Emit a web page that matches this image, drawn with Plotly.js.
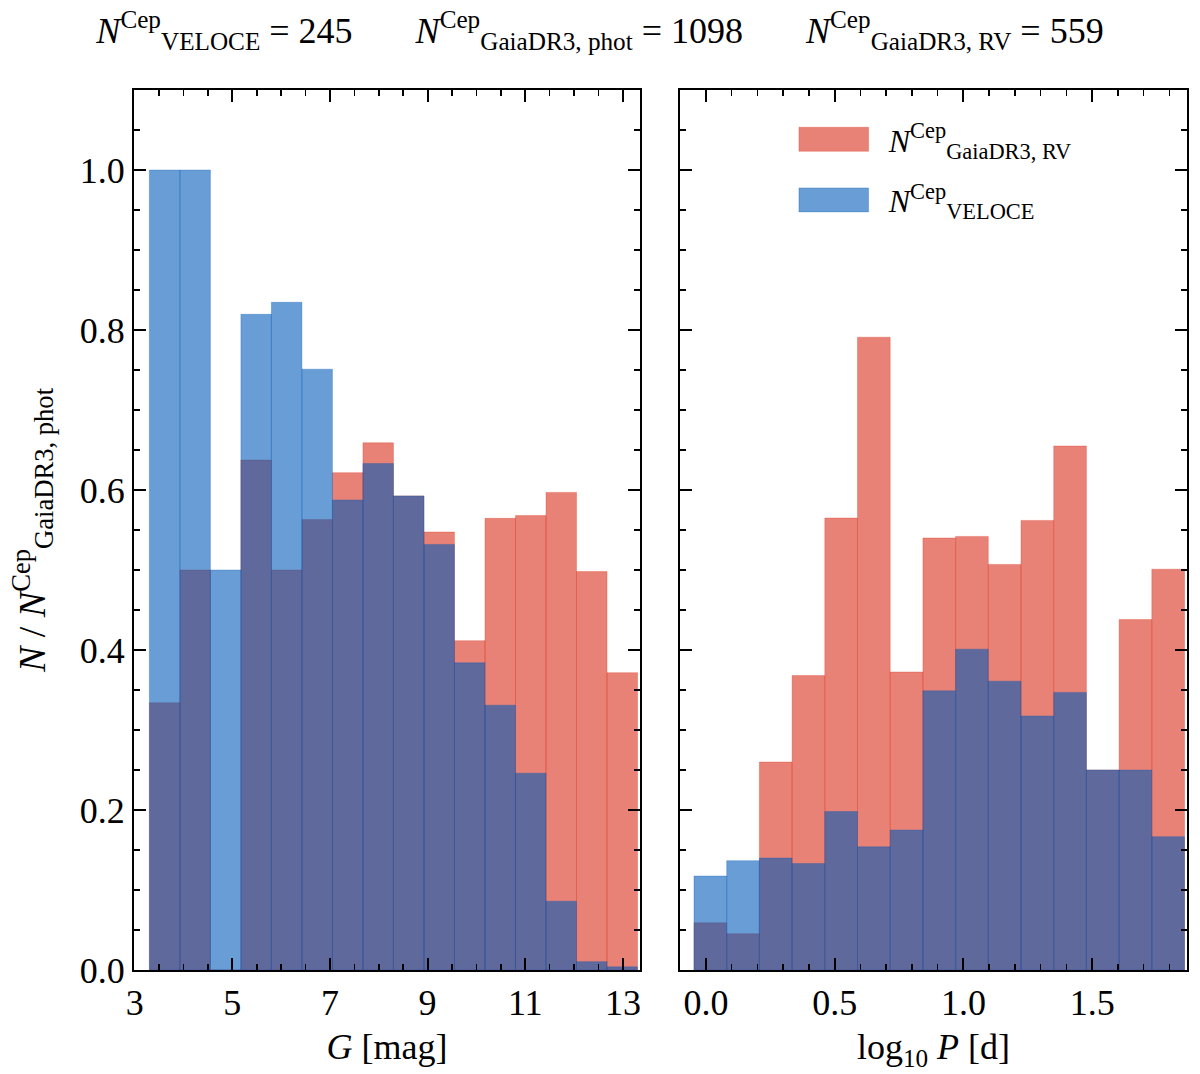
<!DOCTYPE html>
<html>
<head>
<meta charset="utf-8">
<script src="https://cdn.plot.ly/plotly-3.0.1.min.js"></script>
<style>
  body { margin: 0; background: #fff; }
  #plot { width: 1200px; height: 1074px; }
</style>
</head>
<body>
<div id="plot"></div>
<script>
// histogram bins (left: G mag, right: log10 P)
const gBinStart = 3.3;
const gBinWidth = 0.625;
const pBinStart = -0.0466;
const pBinWidth = 0.127;

// fractions relative to N_GaiaDR3,phot per bin
let gRV = [0.334, 0.5, 0.0, 0.6375, 0.5, 0.563, 0.6217, 0.659, 0.5926, 0.5475, 0.4117, 0.5646, 0.568, 0.597, 0.498, 0.3717];
let gVeloce = [1.0, 1.0, 0.5, 0.8196, 0.8346, 0.751, 0.5875, 0.633, 0.5926, 0.532, 0.384, 0.331, 0.246, 0.086, 0.0104, 0.004];

let pRV = [0.059, 0.0454, 0.26, 0.368, 0.565, 0.791, 0.3725, 0.54, 0.542, 0.507, 0.562, 0.655, 0.25, 0.438, 0.501];
let pVeloce = [0.1175, 0.1367, 0.14, 0.133, 0.198, 0.154, 0.175, 0.349, 0.401, 0.361, 0.3175, 0.347, 0.25, 0.25, 0.1667];

const nVeloce = 245;
const nPhot = 1098;
const nRV = 559;

const labRV = "<i>N</i><sup>Cep</sup><sub>GaiaDR3, RV</sub>";
const labVeloce = "<i>N</i><sup>Cep</sup><sub>VELOCE</sub>";
const labPhot = "<i>N</i><sup>Cep</sup><sub>GaiaDR3, phot</sub>";

const centers = (start, w, n) => {
  let c = [];
  for (let i = 0; i < n; i++) c.push(start + (i + 0.5) * w);
  return c;
};

const redFill = "rgba(218,47,27,0.6)";
const blueFill = "rgba(0,89,184,0.59)";

const FONT = "Liberation Serif, DejaVu Serif, serif";

let gx = centers(gBinStart, gBinWidth, gRV.length);
let px = centers(pBinStart, pBinWidth, pRV.length);

let data = [
  {
    x: gx, y: gRV, type: "bar", width: gBinWidth, name: labRV,
    marker: { color: redFill, line: { color: redFill, width: 0.5 } },
    xaxis: "x", yaxis: "y", legendgroup: "rv", showlegend: false,
  },
  {
    x: gx, y: gVeloce, type: "bar", width: gBinWidth, name: labVeloce,
    marker: { color: blueFill, line: { color: blueFill, width: 0.5 } },
    xaxis: "x", yaxis: "y", legendgroup: "vel", showlegend: false,
  },
  {
    x: px, y: pRV, type: "bar", width: pBinWidth, name: labRV,
    marker: { color: redFill, line: { color: redFill, width: 0.5 } },
    xaxis: "x2", yaxis: "y2", legendgroup: "rv",
  },
  {
    x: px, y: pVeloce, type: "bar", width: pBinWidth, name: labVeloce,
    marker: { color: blueFill, line: { color: blueFill, width: 0.5 } },
    xaxis: "x2", yaxis: "y2", legendgroup: "vel",
  },
];

const axBase = {
  showline: true, linecolor: "black", linewidth: 2,
  mirror: "allticks", ticks: "inside", ticklen: 12, tickwidth: 2,
  tickcolor: "black", showgrid: false, zeroline: false,
  tickfont: { family: FONT, size: 36, color: "black" },
};

let layout = {
  width: 1200, height: 1074,
  margin: { l: 134, r: 13, t: 90, b: 104 },
  paper_bgcolor: "white", plot_bgcolor: "white",
  barmode: "overlay", bargap: 0,
  font: { family: FONT, color: "black" },
  title: {
    text: labVeloce + " = " + nVeloce + "       " + labPhot + " = " + nPhot + "       " + labRV + " = " + nRV,
    font: { family: FONT, size: 36, color: "black" },
    xref: "container", x: 0.5, xanchor: "center",
    yref: "container", y: 0.972, yanchor: "middle",
  },
  xaxis: Object.assign({}, axBase, {
    domain: [0, 0.4805], range: [2.985, 13.35],
    tickvals: [3, 5, 7, 9, 11, 13],
    minor: { ticks: "inside", ticklen: 6, tickwidth: 1.5, tickcolor: "black", dtick: 0.5, tick0: 3, showgrid: false },
    title: { text: "<i>G</i> [mag]", font: { family: FONT, size: 36, color: "black" }, standoff: 12 },
  }),
  yaxis: Object.assign({}, axBase, {
    range: [0, 1.1], tickvals: [0, 0.2, 0.4, 0.6, 0.8, 1.0], tickformat: ".1f",
    minor: { ticks: "inside", ticklen: 6, tickwidth: 1.5, tickcolor: "black", dtick: 0.05, tick0: 0, showgrid: false },
    title: { text: "<i>N</i> / " + labPhot, font: { family: FONT, size: 38, color: "black" }, standoff: 22 },
  }),
  xaxis2: Object.assign({}, axBase, {
    domain: [0.5185, 1], range: [-0.101, 1.868],
    tickvals: [0, 0.5, 1.0, 1.5], tickformat: ".1f",
    minor: { ticks: "inside", ticklen: 6, tickwidth: 1.5, tickcolor: "black", dtick: 0.1, tick0: 0, showgrid: false },
    title: { text: "log<sub>10</sub> <i>P</i> [d]", font: { family: FONT, size: 36, color: "black" }, standoff: 12 },
    anchor: "y2",
  }),
  yaxis2: Object.assign({}, axBase, {
    range: [0, 1.1], matches: "y", anchor: "x2", showticklabels: false,
    tickvals: [0, 0.2, 0.4, 0.6, 0.8, 1.0],
    minor: { ticks: "inside", ticklen: 6, tickwidth: 1.5, tickcolor: "black", dtick: 0.05, tick0: 0, showgrid: false },
  }),
  legend: {
    x: 0.6123, y: 0.975, xanchor: "left", yanchor: "top",
    bgcolor: "rgba(0,0,0,0)", borderwidth: 0,
    font: { family: FONT, size: 32, color: "black" },
    itemwidth: 100, tracegroupgap: 16,
  },
};

let config = { staticPlot: true };

Plotly.newPlot("plot", data, layout, config).then((gd) => {
  // stretch the legend patches to wide bars like the original
  gd.querySelectorAll(".legend .legendpoints path").forEach((p) => {
    let t = p.getAttribute("transform") || "";
    p.setAttribute("transform", t + " scale(5.8,2)");
    p.style.vectorEffect = "non-scaling-stroke";
  });
});
</script>
</body>
</html>
